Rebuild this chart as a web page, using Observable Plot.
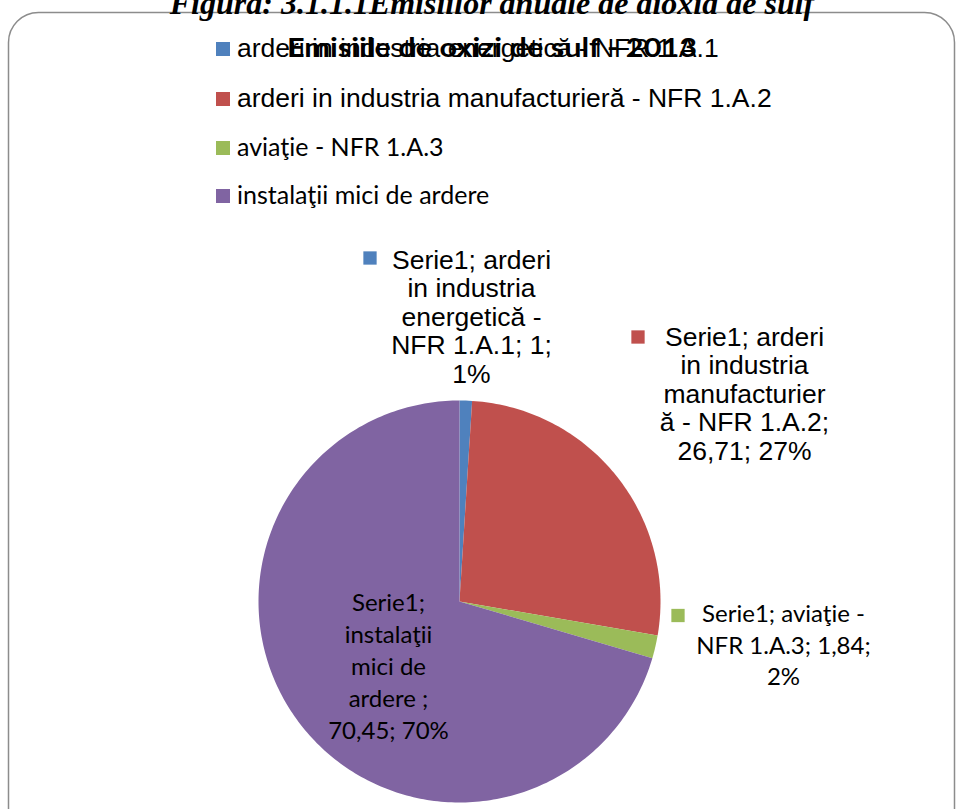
<!DOCTYPE html>
<html><head><meta charset="utf-8">
<script src="https://cdn.jsdelivr.net/npm/d3@7"></script>
<script src="https://cdn.jsdelivr.net/npm/@observablehq/plot@0.6"></script>
<style>
body{margin:0;background:#fff;}
#wrap{position:relative;width:957px;height:809px;overflow:hidden;background:#fff;}
#wrap svg{position:absolute;left:0;top:0;}
#overlay{pointer-events:none;}
</style>
</head><body>
<div id="wrap"></div>
<script>
// ---- data ----
const categories = [
  "arderi in industria energetică - NFR 1.A.1",
  "arderi in industria manufacturieră - NFR 1.A.2",
  "aviaţie - NFR 1.A.3",
  "instalaţii mici de ardere"
];
const values = [1, 26.71, 1.84, 70.45];
const valueLabels = ["1", "26,71", "1,84", "70,45"];
const percentLabels = ["1%", "27%", "2%", "70%"];
const seriesName = "Serie1";
const colors = ["#4F81BD", "#C0504D", "#9BBB59", "#8064A2"];
const chartTitle = "Emisiile de oxizi de sulf - 2013";
const figureCaption = "Figura: 3.1.1.1Emisiilor anuale de dioxid de sulf";

// label text as wrapped in the original (line breaks only)
const labelLines = [
  ["Serie1; arderi", "in industria", "energetică -", "NFR 1.A.1; 1;", "1%"],
  ["Serie1; arderi", "in industria", "manufacturier", "ă - NFR 1.A.2;", "26,71; 27%"],
  ["Serie1; aviaţie -", "NFR 1.A.3; 1,84;", "2%"],
  ["Serie1;", "instalaţii", "mici de", "ardere ;", "70,45; 70%"]
];

// ---- layout (pixels) ----
const W = 957, H = 809;
const CX = 459, CY = 601, R = 201;
const toU = (px, py) => [(px - CX) / R, (CY - py) / R];
const arialFont = "Liberation Sans, Arial, sans-serif";
const calFont = "Lato, Carlito, Calibri, sans-serif";
const labelLayout = [
  {tx: 471, ty: 316, sx: 369.5, sy: 257.5, font: arialFont, fs: 26.5, lh: 28.5},
  {tx: 744, ty: 393, sx: 637.5, sy: 336.5, font: arialFont, fs: 26.5, lh: 28.5},
  {tx: 783, ty: 643, sx: 677.5, sy: 615, font: calFont, fs: 24, lh: 31.5},
  {tx: 388, ty: 664, sx: null, sy: null, font: calFont, fs: 24, lh: 32}
];

// ---- pie geometry from data ----
const pie = d3.pie().sort(null).value(d => d.value)(categories.map((name, i) => ({name, value: values[i]})));
const poly = [];
pie.forEach(s => {
  const name = s.data.name;
  poly.push({name, x: 0, y: 0});
  const steps = Math.max(2, Math.ceil((s.endAngle - s.startAngle) / (Math.PI / 180)));
  for (let k = 0; k <= steps; k++) {
    const a = s.startAngle + (s.endAngle - s.startAngle) * k / steps;
    poly.push({name, x: Math.sin(a), y: Math.cos(a)});
  }
});

const labels = categories.map((name, i) => {
  const L = labelLayout[i];
  const [x, y] = toU(L.tx, L.ty);
  return {name, x, y, text: labelLines[i].join("\n"), font: L.font, fs: L.fs, lh: L.lh};
});
const swatches = categories.map((name, i) => {
  const L = labelLayout[i];
  if (L.sx == null) return null;
  const [x, y] = toU(L.sx, L.sy);
  return {name, x, y};
}).filter(d => d);

const textMarks = labels.map(d => Plot.text([d], {
  x: "x", y: "y", text: "text", fill: "#000",
  fontFamily: d.font, fontSize: d.fs, lineHeight: d.lh / d.fs,
  textAnchor: "middle", lineAnchor: "middle"
}));

const chart = Plot.plot({
  width: W, height: H, margin: 0,
  style: {background: "transparent", overflow: "visible"},
  x: {domain: [-1, 1], range: [CX - R, CX + R], axis: null},
  y: {domain: [-1, 1], range: [CY + R, CY - R], axis: null},
  color: {domain: categories, range: colors},
  marks: [
    Plot.line(poly, {x: "x", y: "y", z: "name", fill: "name", stroke: "none", curve: "linear-closed"}),
    Plot.dot(swatches, {x: "x", y: "y", fill: "name", symbol: "square", r: 7.5, stroke: "none"}),
    ...textMarks
  ]
});
document.getElementById("wrap").appendChild(chart);

// ---- overlay: frame, caption, legend, title ----
const ns = "http://www.w3.org/2000/svg";
const ov = document.createElementNS(ns, "svg");
ov.setAttribute("id", "overlay");
ov.setAttribute("width", W); ov.setAttribute("height", H);
function el(tag, attrs, txt) {
  const e = document.createElementNS(ns, tag);
  for (const k in attrs) e.setAttribute(k, attrs[k]);
  if (txt != null) e.textContent = txt;
  ov.appendChild(e);
  return e;
}
el("rect", {x: 8.5, y: 12.5, width: 946, height: 830, rx: 30, ry: 30, fill: "none", stroke: "#8c8c8c", "stroke-width": 1.5});
el("text", {x: 492, y: 14, "text-anchor": "middle", "font-family": "Liberation Serif, Times New Roman, serif", "font-weight": "bold", "font-style": "italic", "font-size": 32}, figureCaption);
const legendBase = [57, 107, 156, 204];
const legendFont = [arialFont, arialFont, calFont, calFont];
const legendSize = [26.5, 26.5, 25, 25];
categories.forEach((name, i) => {
  el("rect", {x: 216, y: legendBase[i] - 15, width: 14, height: 14, fill: colors[i]});
  el("text", {x: 237, y: legendBase[i], "font-family": legendFont[i], "font-size": legendSize[i], fill: "#000"}, name);
});
el("text", {x: 287, y: 57, "font-family": calFont, "font-weight": "bold", "font-size": 26, fill: "#000", textLength: 410, lengthAdjust: "spacingAndGlyphs"}, chartTitle);
document.getElementById("wrap").appendChild(ov);
</script>
</body></html>
